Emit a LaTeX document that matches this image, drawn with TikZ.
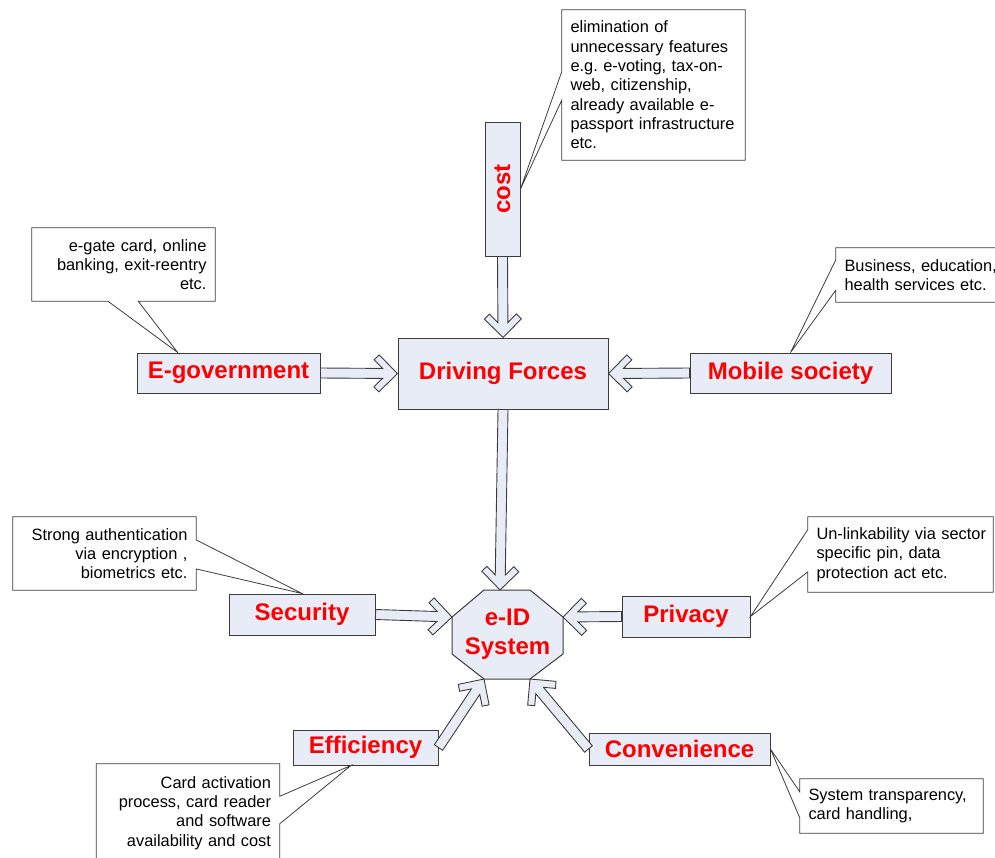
\documentclass[tikz,border=0pt]{standalone}
\usepackage{fontspec}
\setmainfont{Liberation Sans}
\usepackage{graphicx}
\usetikzlibrary{calc}
\definecolor{boxfill}{RGB}{231,236,246}
\definecolor{boxline}{RGB}{60,60,60}

\begin{document}
\begin{tikzpicture}[
  x=1pt,y=-1pt,
  box/.style={draw=boxline,fill=boxfill,line width=1pt,inner sep=0pt,
    text=red,font=\fontsize{24}{29}\selectfont\bfseries,align=center},
  note/.style={inner sep=8.5pt,text width=166pt,
    font=\fontsize{16.4}{19.3}\selectfont},
  callout/.style={draw=boxline,line width=0.8pt,line join=miter},
  flow/.style={draw=boxline,fill=boxfill,line width=0.9pt,line join=miter,
    to path={let \p1=($(\tikztotarget)-(\tikztostart)$),
      \n1={veclen(\x1,\y1)} in
      ($(\tikztostart)!5pt!90:(\tikztotarget)$)
      -- ($(\tikztostart)!\n1-15pt!(\tikztotarget)!5pt!90:(\tikztotarget)$)
      -- ($(\tikztostart)!\n1-23.5pt!(\tikztotarget)!13.5pt!90:(\tikztotarget)$)
      -- ($(\tikztostart)!\n1-18.5pt!(\tikztotarget)!18.5pt!90:(\tikztotarget)$)
      -- (\tikztotarget)
      -- ($(\tikztostart)!\n1-18.5pt!(\tikztotarget)!18.5pt!-90:(\tikztotarget)$)
      -- ($(\tikztostart)!\n1-23.5pt!(\tikztotarget)!13.5pt!-90:(\tikztotarget)$)
      -- ($(\tikztostart)!\n1-15pt!(\tikztotarget)!5pt!-90:(\tikztotarget)$)
      -- ($(\tikztostart)!5pt!-90:(\tikztotarget)$)
      -- cycle}}
]
  \useasboundingbox (0,0) rectangle (995,857);

  % upper half: forces
  \node[box,minimum width=210pt,minimum height=71pt] (driving-forces)
    at (503,373.5) {Driving Forces};
  \node[box,minimum width=35pt,minimum height=134pt] (cost)
    at (502.5,189) {\rotatebox{90}{cost}};
  \node[box,minimum width=183pt,minimum height=40pt] (e-gov)
    at (228.5,373) {E-government};
  \node[box,minimum width=201pt,minimum height=40pt] (mobile)
    at (790.5,373) {Mobile society};

  \draw[flow] (cost.south) to (driving-forces.north);
  \draw[flow] (e-gov.east) to (driving-forces.west);
  \draw[flow] (mobile.west) to (driving-forces.east);

  % e-ID system
  \draw[draw=boxline,fill=boxfill,line width=1pt]
    (484,590) -- (530,590) coordinate (eid-ne)
    -- (563,617) coordinate (eid-e) -- (563,654)
    -- (530,679) coordinate (eid-se) -- (484,679) coordinate (eid-sw)
    -- (452,654) -- (452,617) coordinate (eid-w) -- cycle;
  \coordinate (eid-top) at (500,590);
  \node[box,draw=none,fill=none] (eid) at (507.5,634) {e-ID\\System};

  \node[box,minimum width=146pt,minimum height=41pt] (security)
    at (302,614.5) {Security};
  \node[box,minimum width=128pt,minimum height=41pt] (privacy)
    at (686,616.5) {Privacy};
  \node[box,minimum width=145pt,minimum height=35pt] (efficiency)
    at (365.5,747.5) {Efficiency};
  \node[box,minimum width=181pt,minimum height=32pt] (convenience)
    at (679.5,749) {Convenience};

  \draw[flow] (driving-forces.south) to (eid-top);
  \draw[flow] (security.east) to (eid-w);
  \draw[flow] (privacy.west) to (eid-e);
  \draw[flow] (efficiency.east) to (eid-sw);
  \draw[flow] (convenience.west) to (eid-se);

  % callouts
  \node[note,align=left,minimum height=150pt] (cost-note) at (653.5,85)
    {elimination of\\unnecessary features\\e.g.\ e-voting, tax-on-\\web,
     citizenship,\\already available e-\\passport infrastructure\\etc.};
  \draw[callout] (cost-note.north west) -- (cost-note.north east)
    -- (cost-note.south east) -- (cost-note.south west)
    -- ($(cost-note.north west)!0.6!(cost-note.south west)$) -- (cost.east)
    -- ($(cost-note.north west)!0.41!(cost-note.south west)$) -- cycle;

  \node[note,align=right,minimum height=73pt] (e-gov-note) at (123.5,264.5)
    {e-gate card, online\\banking, exit-reentry\\etc.};
  \draw[callout] (e-gov-note.north west) -- (e-gov-note.north east)
    -- (e-gov-note.south east)
    -- ($(e-gov-note.south west)!0.58!(e-gov-note.south east)$)
    -- ($(e-gov.north west)!0.224!(e-gov.north east)$)
    -- ($(e-gov-note.south west)!0.415!(e-gov-note.south east)$)
    -- (e-gov-note.south west) -- cycle;

  \node[note,align=left,minimum height=54pt] (mobile-note) at (927.5,275)
    {Business, education,\\health services etc.};
  \draw[callout] (mobile-note.north west) -- (mobile-note.north east)
    -- (mobile-note.south east) -- (mobile-note.south west)
    -- ($(mobile-note.north west)!0.78!(mobile-note.south west)$)
    -- (mobile.north)
    -- ($(mobile-note.north west)!0.22!(mobile-note.south west)$) -- cycle;

  \node[note,align=right,minimum height=73pt] (security-note) at (104.5,553.5)
    {Strong authentication\\via encryption ,\\biometrics etc.};
  \draw[callout] (security-note.south east) -- (security-note.south west)
    -- (security-note.north west) -- (security-note.north east)
    -- ($(security-note.north east)!0.315!(security-note.south east)$)
    -- (security.north)
    -- ($(security-note.north east)!0.71!(security-note.south east)$) -- cycle;

  \node[note,align=left,text width=168pt,minimum height=75pt] (privacy-note)
    at (900.5,554.5)
    {\mbox{Un-linkability via sector}\\specific pin, data\\protection act etc.};
  \draw[callout] (privacy-note.north west) -- (privacy-note.north east)
    -- (privacy-note.south east) -- (privacy-note.south west)
    -- ($(privacy-note.north west)!0.73!(privacy-note.south west)$)
    -- (privacy.east)
    -- ($(privacy-note.north west)!0.17!(privacy-note.south west)$) -- cycle;

  \node[note,align=right,minimum height=98pt] (efficiency-note) at (188,813)
    {Card activation\\process, card reader\\and software\\availability and cost};
  \draw[callout] (efficiency-note.south east) -- (efficiency-note.south west)
    -- (efficiency-note.north west) -- (efficiency-note.north east)
    -- ($(efficiency-note.north east)!0.33!(efficiency-note.south east)$)
    -- ($(efficiency.south west)!0.4!(efficiency.south east)$)
    -- ($(efficiency-note.north east)!0.61!(efficiency-note.south east)$)
    -- cycle;

  \node[note,align=left,minimum height=54pt] (convenience-note) at (891.5,806)
    {System transparency,\\card handling,};
  \draw[callout] (convenience-note.north west) -- (convenience-note.north east)
    -- (convenience-note.south east) -- (convenience-note.south west)
    -- ($(convenience-note.north west)!0.72!(convenience-note.south west)$)
    -- (convenience.east)
    -- ($(convenience-note.north west)!0.24!(convenience-note.south west)$)
    -- cycle;
\end{tikzpicture}
\end{document}
